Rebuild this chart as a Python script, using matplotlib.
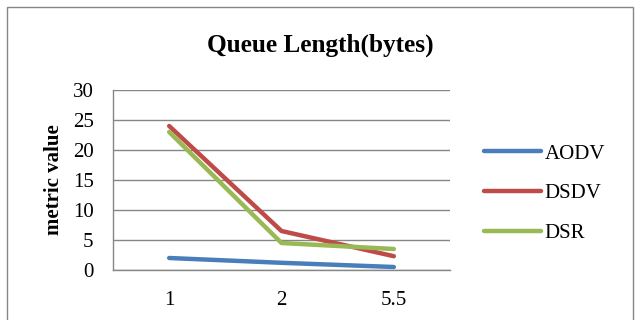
import matplotlib
matplotlib.use("Agg")
import matplotlib.pyplot as plt
from matplotlib.patches import Rectangle

categories = ["1", "2", "5.5"]
aodv = [2.0, 1.2, 0.5]
dsdv = [24.0, 6.5, 2.3]
dsr = [23.0, 4.5, 3.5]
series_names = ["AODV", "DSDV", "DSR"]
colors = ["#4A7EBB", "#BE4B48", "#98B954"]

plt.rcParams['font.family'] = ['Liberation Serif', 'DejaVu Serif']

W, H = 636, 320
fig = plt.figure(figsize=(W / 100, H / 100), dpi=100)
fig.patch.set_facecolor("white")

# outer chart border
fig.patches.append(Rectangle((7 / W, -0.1), (633 - 7) / W, 1.1 - 7 / H,
                             transform=fig.transFigure, fill=False,
                             edgecolor="#868686", linewidth=1.0))

ax = fig.add_axes([113 / W, 1 - 270 / H, (450 - 113) / W, (270 - 90) / H])
x = list(range(len(categories)))
for name, vals, c in zip(series_names, [aodv, dsdv, dsr], colors):
    ax.plot(x, vals, color=c, linewidth=3.2, solid_capstyle="round",
            solid_joinstyle="round", label=name)

ax.set_xlim(-0.5, len(categories) - 0.5)
ax.set_ylim(0, 30)
ax.set_yticks([0, 5, 10, 15, 20, 25, 30])
ax.set_xticks(x)
ax.set_xticklabels(categories)
ax.tick_params(axis="both", length=0, labelsize=15, colors="black")
ax.tick_params(axis="y", pad=14)
ax.tick_params(axis="x", pad=15)
ax.yaxis.grid(True, color="#868686", linewidth=1.0)
ax.set_axisbelow(True)
for s in ["top", "right"]:
    ax.spines[s].set_visible(False)
ax.spines["left"].set_color("#868686")
ax.spines["bottom"].set_color("#868686")
ax.spines["left"].set_linewidth(1.0)
ax.spines["bottom"].set_linewidth(1.0)

ax.set_ylabel("metric value", fontsize=15, fontweight="bold")
ax.yaxis.set_label_coords(-49 / (450 - 113), 0.5)
fig.text(320 / W, 1 - 45 / H, "Queue Length(bytes)", ha="center", va="center",
         fontsize=18.2, fontweight="bold")

leg = fig.legend(loc="upper left", bbox_to_anchor=(484 / W, 1 - 144 / H),
                 frameon=False, fontsize=15, handlelength=2.75,
                 handletextpad=0.15, labelspacing=0.97, borderaxespad=0,
                 borderpad=0)

fig.savefig("out.png", dpi=100, facecolor="white")
